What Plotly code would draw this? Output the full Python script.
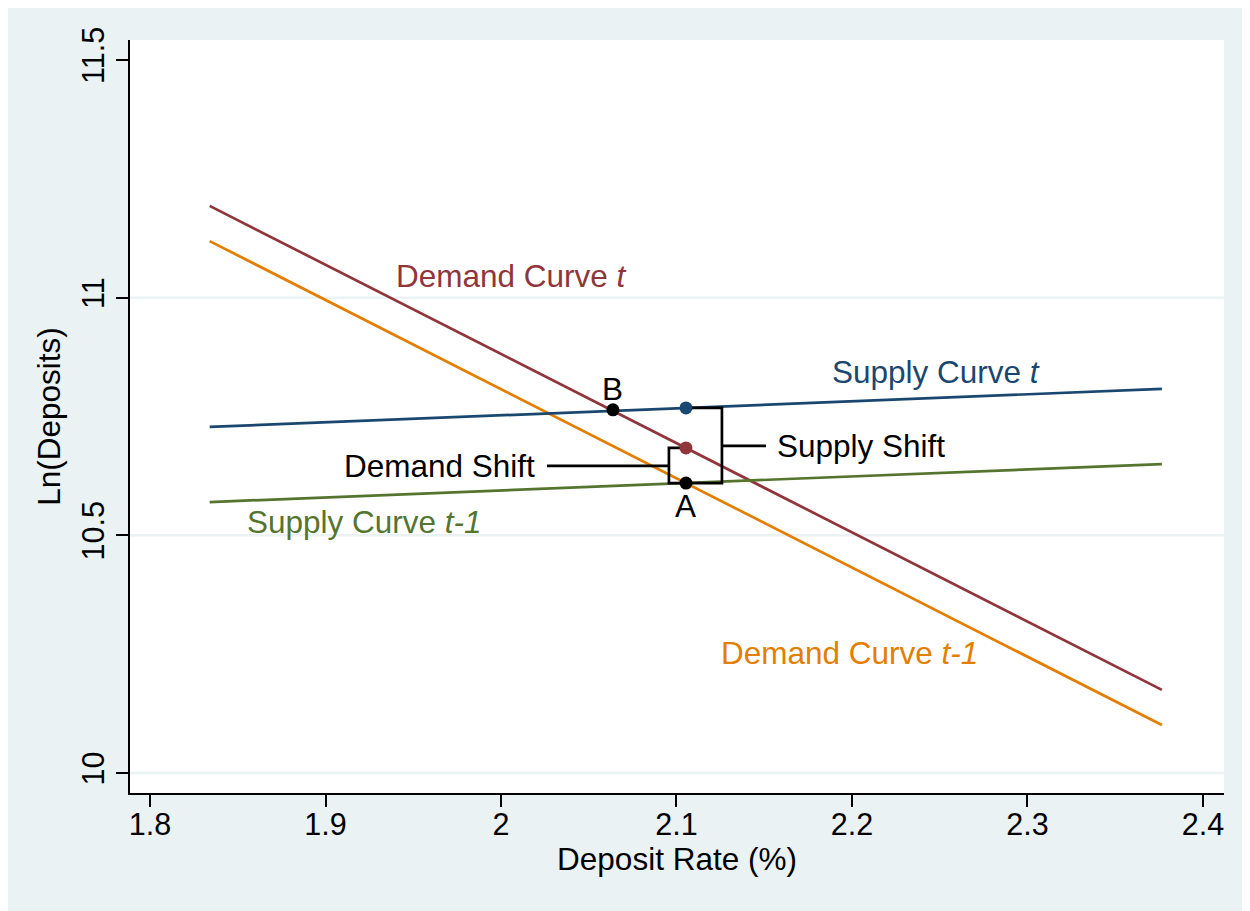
import plotly.graph_objects as go

# ---- data ----
curve_x = [1.834, 2.3766]
demand_t = [11.193, 10.175]
demand_t1 = [11.119, 10.101]
supply_t = [10.728, 10.808]
supply_t1 = [10.570, 10.650]

point_b = (2.0638, 10.764)
point_a = (2.1054, 10.610)
point_supply_t = (2.1054, 10.768)
point_demand_t = (2.1054, 10.684)

supply_bracket_x = [2.1054, 2.1259, 2.1259, 2.1054]
supply_bracket_y = [10.768, 10.768, 10.610, 10.610]
supply_tick_x = [2.1259, 2.151]
supply_tick_y = [10.688, 10.688]
demand_bracket_x = [2.1054, 2.0957, 2.0957, 2.1054]
demand_bracket_y = [10.684, 10.684, 10.610, 10.610]
demand_tick_x = [2.0957, 2.0262]
demand_tick_y = [10.646, 10.646]

x_ticks = [1.8, 1.9, 2.0, 2.1, 2.2, 2.3, 2.4]
x_ticklabels = ["1.8", "1.9", "2", "2.1", "2.2", "2.3", "2.4"]
y_ticks = [10, 10.5, 11, 11.5]
y_ticklabels = ["10", "10.5", "11", "11.5"]
grid_y = [10, 10.5, 11]

NAVY = "#1a476f"
MAROON = "#90353b"
GREEN = "#55752f"
ORANGE = "#e37e00"
BG = "#eaf2f3"
FONT = "Liberation Sans, Arial, sans-serif"

fig = go.Figure()

fig.add_trace(go.Scatter(x=curve_x, y=demand_t, mode="lines", line=dict(color=MAROON, width=2.7)))
fig.add_trace(go.Scatter(x=curve_x, y=demand_t1, mode="lines", line=dict(color=ORANGE, width=2.7)))
fig.add_trace(go.Scatter(x=curve_x, y=supply_t, mode="lines", line=dict(color=NAVY, width=2.7)))
fig.add_trace(go.Scatter(x=curve_x, y=supply_t1, mode="lines", line=dict(color=GREEN, width=2.7)))

for bx, by in [(supply_bracket_x, supply_bracket_y), (supply_tick_x, supply_tick_y),
               (demand_bracket_x, demand_bracket_y), (demand_tick_x, demand_tick_y)]:
    fig.add_trace(go.Scatter(x=bx, y=by, mode="lines", line=dict(color="black", width=2.7)))

fig.add_trace(go.Scatter(x=[point_supply_t[0]], y=[point_supply_t[1]], mode="markers",
                         marker=dict(color=NAVY, size=13)))
fig.add_trace(go.Scatter(x=[point_demand_t[0]], y=[point_demand_t[1]], mode="markers",
                         marker=dict(color=MAROON, size=13)))
fig.add_trace(go.Scatter(x=[point_b[0], point_a[0]], y=[point_b[1], point_a[1]], mode="markers",
                         marker=dict(color="black", size=13)))

labels = [
    (1.9407, 11.0456, "Demand Curve <i>t</i>", MAROON, "left"),
    (2.1890, 10.8436, "Supply Curve <i>t</i>", NAVY, "left"),
    (1.8558, 10.528, "Supply Curve <i>t-1</i>", GREEN, "left"),
    (2.1258, 10.2525, "Demand Curve <i>t-1</i>", ORANGE, "left"),
    (2.0638, 10.808, "B", "black", "center"),
    (2.1054, 10.5617, "A", "black", "center"),
    (2.1578, 10.688, "Supply Shift", "black", "left"),
    (2.0188, 10.646, "Demand Shift", "black", "right"),
]
shift = {"left": -3, "right": 3, "center": 0}
for x, y, t, c, anc in labels:
    fig.add_annotation(x=x, y=y, text=t, showarrow=False, xanchor=anc, yanchor="middle",
                       xshift=shift[anc],
                       font=dict(family=FONT, size=31.5, color=c))

for gy in grid_y:
    fig.add_shape(type="line", xref="paper", x0=0, x1=1, yref="y", y0=gy, y1=gy,
                  line=dict(color=BG, width=2.5), layer="below")

fig.update_layout(
    width=1250, height=911,
    margin=dict(l=122, r=34, t=32, b=126),
    paper_bgcolor=BG, plot_bgcolor="white",
    showlegend=False,
    font=dict(family=FONT, color="black"),
    xaxis=dict(range=[1.7886, 2.412], tickvals=x_ticks, ticktext=x_ticklabels,
               showgrid=False, zeroline=False, showline=True, linecolor="black", linewidth=2,
               ticks="outside", ticklen=12, tickwidth=1.5, tickcolor="black",
               ticklabelstandoff=-9,
               tickfont=dict(size=30.5, family=FONT),
               title=dict(text="Deposit Rate (%)", font=dict(size=31.5, family=FONT), standoff=8)),
    yaxis=dict(range=[9.958, 11.542], tickvals=y_ticks, ticktext=y_ticklabels,
               showgrid=False, zeroline=False, showline=True, linecolor="black", linewidth=2,
               ticks="outside", ticklen=12, tickwidth=1.5, tickcolor="black", tickangle=-90,
               tickfont=dict(size=30.5, family=FONT),
               title=dict(text="Ln(Deposits)", font=dict(size=31.5, family=FONT), standoff=6)),
)

fig.write_html("out.html")
